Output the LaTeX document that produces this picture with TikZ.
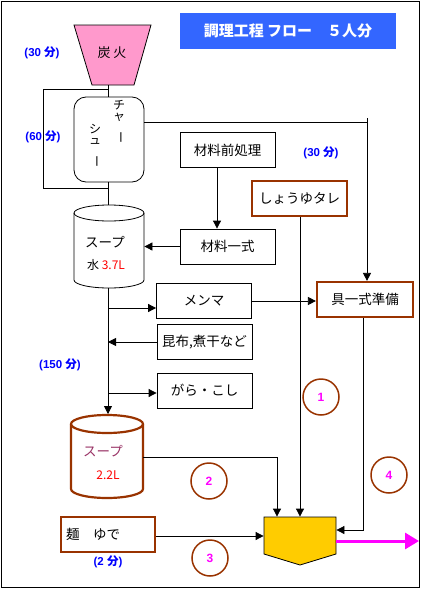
\documentclass[tikz,border=0pt]{standalone}
\usepackage{fontspec}
\setmainfont{Noto Sans CJK JP}
\newfontfamily\latf{Liberation Sans}
\newfontfamily\jpf{Noto Sans CJK JP}
\usetikzlibrary{arrows.meta}
\definecolor{brn}{HTML}{993300}
\definecolor{ttl}{HTML}{3366FF}
\definecolor{pinkf}{HTML}{FF99CC}
\definecolor{yel}{HTML}{FFCC00}
\definecolor{mag}{HTML}{FF00FF}
\definecolor{purp}{HTML}{993366}
\definecolor{tblue}{HTML}{0000FF}
\newcommand{\fun}{{\jpf\bfseries 分}}
\begin{document}
\begin{tikzpicture}[x=1pt,y=-1pt,line width=0.8pt,
  arr/.style={-{Triangle[length=8pt,width=8pt]}},
  plainbox/.style={draw,minimum width=95pt,minimum height=35pt,inner sep=0pt,font=\fontsize{13.5}{15}\selectfont},
  brnbox/.style={draw=brn,line width=2.2pt,minimum height=35pt,inner sep=0pt,font=\fontsize{13.5}{15}\selectfont},
  mins/.style={text=tblue,font=\latf\fontsize{11.5}{13}\selectfont\bfseries},
  num/.style={draw=brn,line width=1.5pt,circle,minimum size=36pt,inner sep=0pt,text=mag,font=\latf\fontsize{12}{13}\selectfont\bfseries}]
\useasboundingbox (0,0) rectangle (422,589);
\draw[line width=1pt] (1.5,1.5) rectangle (419.5,587.5);
% title
\node[fill=ttl,minimum width=216pt,minimum height=36pt,inner sep=0pt,text=white,font=\fontsize{15}{17}\selectfont\bfseries] (title) at (288,31) {調理工程\ フロー\quad ５人分};
% fire
\draw[fill=pinkf] (74,25) -- (151,25) -- (134,85) -- (92,85) -- cycle;
\node[font=\fontsize{13}{15}\selectfont] (fire) at (112,53) {炭\ 火};
\node[mins] (m30a) at (42,53) {(30 \fun)};
% chashu
\node[draw,rounded corners=12pt,minimum width=70pt,minimum height=85pt,inner sep=0pt] (chashu) at (109,139.5) {};
\node[font=\fontsize{12}{13}\selectfont,align=center,inner sep=0pt] (ch1) at (119,122) {チ\\[-2pt]ャ\\[-2pt]\rotatebox{-90}{ー}};
\node[font=\fontsize{12}{13}\selectfont,align=center,inner sep=0pt] (ch2) at (95,146) {シ\\[-2pt]ュ\\[-2pt]\rotatebox{-90}{ー}};
\coordinate (fb) at (108,85);
\draw (fb) -- (fb |- chashu.north);
\coordinate (b1) at (43,89);
\coordinate (b2) at (43,188);
\draw (108,89) -- (b1) -- (b2) -- (108,188);
\node[mins] (m60) at (43,137) {(60 \fun)};
% soup 1
\node[minimum width=70pt,minimum height=83pt,inner sep=0pt] (soup1) at (109,246.5) {};
\draw[fill=white] (74,213) -- (74,280) arc[start angle=180,end angle=360,x radius=35pt,y radius=8pt] -- (144,213);
\draw (109,213) ellipse[x radius=35pt,y radius=8pt];
\node[font=\fontsize{13.5}{15}\selectfont] (s1t) at (105,242) {スープ};
\node[font=\fontsize{12}{14}\selectfont] (s1v) at (106,265) {水\ {\color{red}3.7L}};
\draw (chashu.south -| 108,0) -- (108,205);
% boxes
\node[plainbox] (pre) at (227.5,150) {材料前処理};
\node[mins] (m30b) at (321,153) {(30 \fun)};
\node[brnbox,minimum width=95pt] (shoyu) at (299.5,198.5) {しょうゆタレ};
\node[plainbox] (zai) at (227.5,246.5) {材料一式};
\node[plainbox] (menma) at (204,301) {メンマ};
\node[brnbox,minimum width=96pt] (gu) at (365,299.5) {具一式準備};
\node[plainbox] (kombu) at (204.5,342) {昆布,煮干など};
\node[plainbox] (gara) at (204.5,390.5) {がら・こし};
\node[mins] (m150) at (60,365) {(150 \fun)};
% soup 2
\node[minimum width=72pt,minimum height=83pt,inner sep=0pt] (soup2) at (107,456.5) {};
\draw[brn,line width=2.2pt,fill=white] (71,424) -- (71,489) arc[start angle=180,end angle=360,x radius=36pt,y radius=9pt] -- (143,424);
\draw[brn,line width=2.2pt] (107,424) ellipse[x radius=36pt,y radius=9pt];
\node[text=purp,font=\fontsize{13.5}{15}\selectfont] (s2t) at (103,451) {スープ};
\node[text=red,font=\fontsize{12}{14}\selectfont] (s2v) at (108,475) {2.2L};
% noodles
\node[brnbox,minimum width=94pt,align=left,text width=84pt] (men) at (108,534.5) {麺\quad ゆで};
\node[mins] (m2) at (108,562) {(2 \fun)};
% bowl
\draw[fill=yel] (264,517) -- (336,517) -- (336,554) -- (300,565) -- (264,554) -- cycle;
\node[minimum width=72pt,minimum height=37pt,inner sep=0pt] (bowl) at (300,535.5) {};
% circles
\node[num] (c1) at (321,397) {1};
\node[num] (c2) at (209,481) {2};
\node[num] (c3) at (210,558) {3};
\node[num] (c4) at (389,475) {4};
% connectors
\coordinate (cr) at (367,122);
\draw (chashu.east |- cr) -- (cr);
\draw[arr] (367,118) -- (gu.north -| 367,0);
\draw[arr] (pre.south -| 217,0) -- (zai.north -| 217,0);
\draw[arr] (zai.west) -- (zai.west -| soup1.east);
\draw[arr] (soup1.south -| 108,0) -- (108,414);
\draw[arr] (108,308) -- (menma.west |- 0,308);
\draw[arr] (menma.east) -- (gu.west |- menma.east);
\draw[arr] (kombu.west) -- (108,342);
\draw[arr] (108,393) -- (gara.west |- 0,393);
\draw[arr] (shoyu.south -| 300,0) -- (bowl.north -| 300,0);
\draw[arr] (143,457) -- (277,457) -- (bowl.north -| 277,0);
\draw[arr] (men.east |- 0,536) -- (bowl.west |- 0,536);
\draw[arr] (gu.south -| 363,0) -- (363,530) -- (bowl.east |- 0,530);
\draw[mag,line width=3pt,-{Triangle[length=14pt,width=16pt]}] (bowl.east |- 0,541) -- (419,541);
\end{tikzpicture}
\end{document}
